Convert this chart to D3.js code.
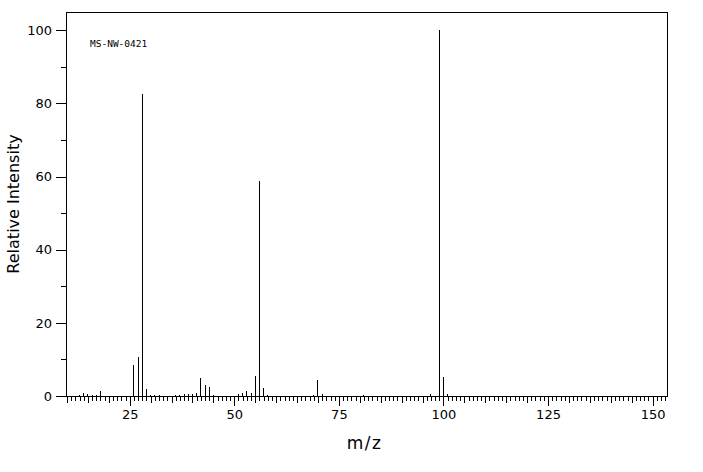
<!DOCTYPE html>
<html>
<head>
<meta charset="utf-8">
<script src="https://cdn.jsdelivr.net/npm/d3@7"></script>
<style>
  html, body { margin: 0; padding: 0; background: #fff; }
  svg { display: block; }
  text { fill: #000; }
</style>
</head>
<body>
<svg id="chart" width="703" height="472"></svg>
<script>
// ---- data ----
const mzValues = [13, 14, 15, 16, 17, 18, 26, 27, 28, 29, 30, 31, 32, 36, 37, 38, 39, 40, 41, 42, 43, 44, 45,
                  51, 52, 53, 54, 55, 56, 57, 58, 69, 70, 71, 81, 97, 99, 100, 101];
const intensities = [0.3, 0.9, 0.5, 0.3, 0.3, 1.5, 8.5, 10.7, 82.7, 2.0, 0.3, 0.2, 0.4, 0.3, 0.4, 0.6, 0.6, 0.6, 0.9, 4.8, 2.9, 2.5, 0.3,
                     0.5, 0.9, 1.5, 0.9, 5.5, 58.7, 2.1, 0.3, 0.3, 4.4, 0.5, 0.3, 0.5, 100, 5.2, 0.5];
const xTickLabels = [25, 50, 75, 100, 125, 150];
const yTickLabels = [0, 20, 40, 60, 80, 100];
const yMinorTicks = [10, 30, 50, 70, 90];
const sampleId = "MS-NW-0421";
const xTitle = "m/z";
const yTitle = "Relative Intensity";

(function () {
const peaks = mzValues.map((m, i) => ({ mz: m, y: intensities[i] }));

const svg = d3.select("#chart");
const mLeft = 66, mRight = 667, mTop = 12, mBottom = 396;

const x = d3.scaleLinear().domain([10, 150]).range([67, 652.6]);
const y = d3.scaleLinear().domain([0, 105]).range([mBottom, mTop]);

const minorX = d3.range(10, 154).filter(v => v % 5 !== 0);
const mediumX = d3.range(10, 154).filter(v => v % 5 === 0 && v % 25 !== 0);

function styleAxis(g) {
  g.select(".domain").remove();
  g.selectAll("line").attr("stroke", "#000").attr("shape-rendering", "crispEdges");
  g.selectAll("text").attr("fill", "#000");
}

svg.append("g").attr("transform", `translate(0,${mBottom})`)
  .call(d3.axisBottom(x).tickValues(minorX).tickSize(5).tickFormat(""))
  .call(styleAxis);
svg.append("g").attr("transform", `translate(0,${mBottom})`)
  .call(d3.axisBottom(x).tickValues(mediumX).tickSize(7).tickFormat(""))
  .call(styleAxis);
svg.append("g").attr("transform", `translate(0,${mBottom})`)
  .call(d3.axisBottom(x).tickValues(xTickLabels).tickSize(10).tickPadding(4).tickFormat(d3.format("d")))
  .call(styleAxis)
  .selectAll("text").attr("font-family", "DejaVu Sans").attr("font-size", 13);

svg.append("g").attr("transform", `translate(${mLeft},0)`)
  .call(d3.axisLeft(y).tickValues(yMinorTicks).tickSize(5).tickFormat(""))
  .call(styleAxis);
svg.append("g").attr("transform", `translate(${mLeft},0)`)
  .call(d3.axisLeft(y).tickValues(yTickLabels).tickSize(10).tickPadding(4).tickFormat(d3.format("d")))
  .call(styleAxis)
  .selectAll("text").attr("font-family", "DejaVu Sans").attr("font-size", 13);

svg.append("rect")
  .attr("x", mLeft).attr("y", mTop)
  .attr("width", mRight - mLeft).attr("height", mBottom - mTop)
  .attr("fill", "none").attr("stroke", "#000").attr("stroke-width", 1)
  .attr("shape-rendering", "crispEdges");

svg.append("g").selectAll("line").data(peaks).join("line")
  .attr("x1", d => x(d.mz)).attr("x2", d => x(d.mz))
  .attr("y1", y(0)).attr("y2", d => y(d.y))
  .attr("stroke", "#000").attr("stroke-width", 1)
  .attr("shape-rendering", "crispEdges");

svg.append("text")
  .attr("x", 90).attr("y", 47)
  .attr("font-family", "DejaVu Sans Mono").attr("font-size", 9.5)
  .text(sampleId);

svg.append("text")
  .attr("x", (mLeft + mRight) / 2 - 2).attr("y", 449)
  .attr("text-anchor", "middle")
  .attr("font-family", "DejaVu Sans").attr("font-size", 17)
  .attr("letter-spacing", 1.5)
  .text(xTitle);

svg.append("text")
  .attr("transform", `translate(19,${(mTop + mBottom) / 2}) rotate(-90)`)
  .attr("text-anchor", "middle")
  .attr("font-family", "DejaVu Sans").attr("font-size", 16)
  .text(yTitle);
})();
</script>
</body>
</html>
